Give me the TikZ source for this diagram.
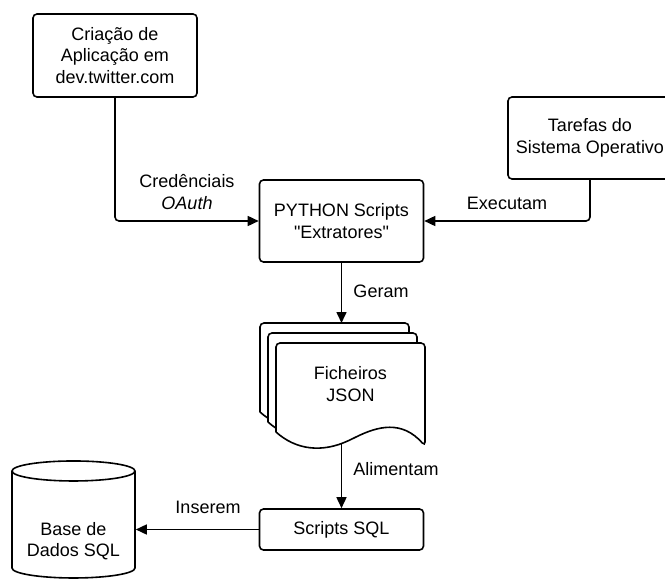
\documentclass[tikz,border=0pt]{standalone}
\usepackage{fontspec}
\setmainfont{Liberation Sans}[Ligatures=TeXOff]
\usetikzlibrary{positioning, arrows.meta, shapes.geometric}

\begin{document}
\begin{tikzpicture}[
        x=1pt, y=-1pt,
        >={Triangle[length=11pt,width=10pt]},
        line width=1.6pt,
        font=\fontsize{18}{21.6}\selectfont,
        every node/.style={align=center},
        process/.style={
            draw,
            rounded corners=4pt,
            minimum width=164pt,
            minimum height=82pt,
            inner sep=2pt
        },
        sheet/.style={draw, fill=white, rounded corners=4pt},
        flow/.style={->, rounded corners=4pt}
    ]
        \useasboundingbox (0,0) rectangle (665,587);

        % Process boxes
        \node[process, minimum height=83pt] (app) at (115,55.5) {Criação de\\Aplicação em\\dev.twitter.com};
        \node[process] (py) at (341.5,221) {PYTHON Scripts\\"Extratores"};
        \node[process] (os) at (590,138) {Tarefas do\\Sistema Operativo};
        \node[process, minimum height=41pt] (sql) at (341.5,529.5) {Scripts SQL};

        % Database
        \node[draw, cylinder, shape border rotate=90, aspect=3,
              minimum width=123pt, minimum height=117pt] (db) at (73.5,526.5) {};
        \node (dbtext) at (73.5,541) {Base de\\Dados SQL};

        % JSON files (stacked documents)
        \foreach \d in {16,8,0} {
            \draw[sheet, shift={(-\d,-1.25*\d)}]
                (276,432) -- (276,343) -- (425,343) -- (425,446)
                .. controls (402,420) and (378,426) .. (352,439)
                .. controls (322,453) and (296,450) .. (276,432);
        }
        \node (json) at (350.5,384) {Ficheiros\\JSON};
        \coordinate (jsontop) at (341.5,323);
        \coordinate (jsonbot) at (341.5,443);

        % Connectors
        \draw[flow] (app.south) |- (py.west);
        \draw[flow] (os.south) |- (py.east);
        \draw[->] (py) -- (jsontop);
        \draw[->] (jsonbot) -- (sql);
        \draw[->] (sql.west) -- (sql.west -| db.east);

        % Connector labels
        \node (cred) at (187,192) {Credênciais\\\textit{OAuth}};
        \node (exec) at (507,203) {Executam};
        \node (geram) at (381,291) {Geram};
        \node (alim) at (396,469) {Alimentam};
        \node (ins) at (208,507) {Inserem};
    \end{tikzpicture}
\end{document}
